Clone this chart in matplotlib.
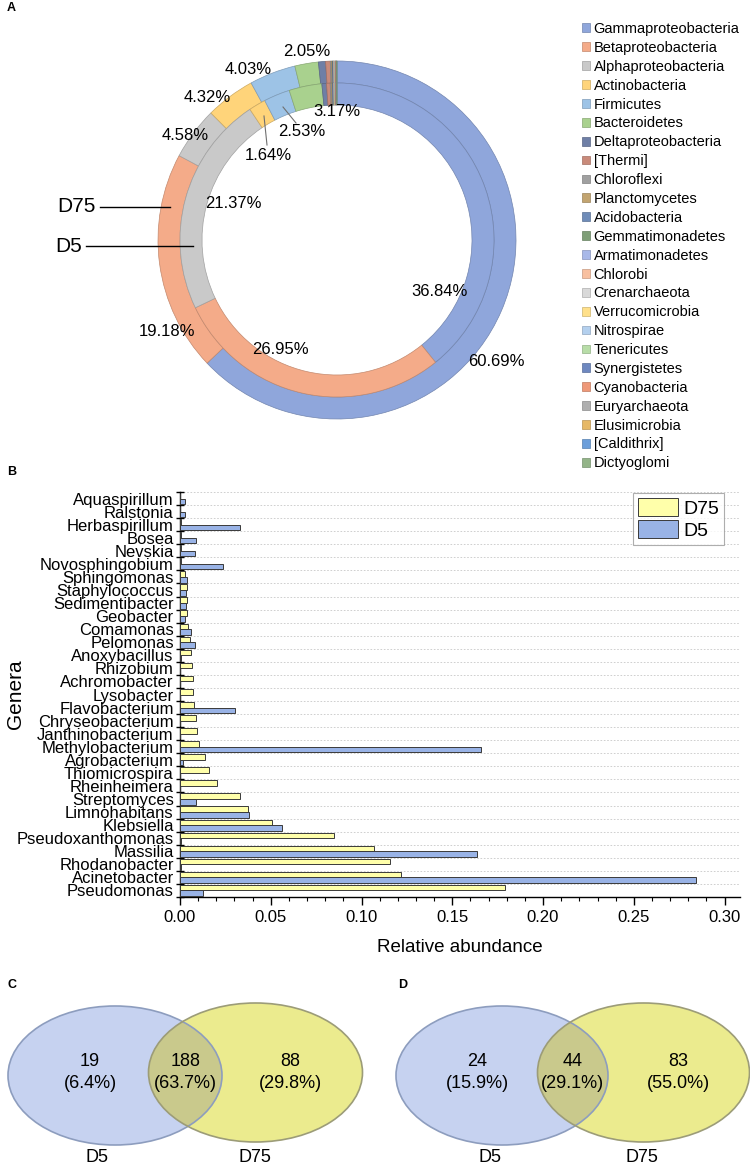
import matplotlib
matplotlib.use('Agg')
import matplotlib.pyplot as plt
from matplotlib.patches import Ellipse, Patch
from matplotlib.colors import to_rgb
import numpy as np

plt.rcParams['font.family'] = ['Liberation Sans', 'DejaVu Sans']

# ---------------- data: panel A (phylum composition) ----------------
phyla = ['Gammaproteobacteria', 'Betaproteobacteria', 'Alphaproteobacteria', 'Actinobacteria',
         'Firmicutes', 'Bacteroidetes', 'Deltaproteobacteria', '[Thermi]', 'Chloroflexi',
         'Planctomycetes', 'Acidobacteria', 'Gemmatimonadetes', 'Armatimonadetes', 'Chlorobi',
         'Crenarchaeota', 'Verrucomicrobia', 'Nitrospirae', 'Tenericutes', 'Synergistetes',
         'Cyanobacteria', 'Euryarchaeota', 'Elusimicrobia', '[Caldithrix]', 'Dictyoglomi']
d75_phyla = [60.69, 19.18, 4.58, 4.32, 4.03, 2.05, 0.62, 0.40, 0.10, 0.08, 0.05, 0.04, 0.03,
             0.03, 0.03, 0.03, 0.03, 0.03, 0.02, 0.03, 0.02, 0.02, 0.02, 0.02]
d5_phyla = [36.84, 26.95, 21.37, 1.64, 2.53, 3.17, 0.45, 0.35, 0.10, 0.10, 0.08, 0.04, 0.03,
            0.03, 0.03, 0.03, 0.03, 0.03, 0.03, 0.03, 0.03, 0.02, 0.02, 0.02]
n_labelled = 6
phyla_colors = ['#8FA6DB', '#F4AB89', '#C9C9C9', '#FFD47A', '#9DC3E6', '#A9D18E', '#6F7FA6',
                '#C98A7A', '#A0A0A0', '#C2A470', '#6F8CB8', '#7F9F78', '#A8B8E8', '#F8C0A0',
                '#D9D9D9', '#FFE08A', '#B4D0EE', '#B8DDA8', '#6E88C0', '#EE9878', '#AFAFAF',
                '#E6B866', '#6C9FDB', '#93B488']

# ---------------- data: panel B (genera) ----------------
genera = ['Aquaspirillum', 'Ralstonia', 'Herbaspirillum', 'Bosea', 'Nevskia', 'Novosphingobium',
          'Sphingomonas', 'Staphylococcus', 'Sedimentibacter', 'Geobacter', 'Comamonas',
          'Pelomonas', 'Anoxybacillus', 'Rhizobium', 'Achromobacter', 'Lysobacter',
          'Flavobacterium', 'Chryseobacterium', 'Janthinobacterium', 'Methylobacterium',
          'Agrobacterium', 'Thiomicrospira', 'Rheinheimera', 'Streptomyces', 'Limnohabitans',
          'Klebsiella', 'Pseudoxanthomonas', 'Massilia', 'Rhodanobacter', 'Acinetobacter',
          'Pseudomonas']
d75_genera = [0.0002, 0.0002, 0.0003, 0.0005, 0.0008, 0.0005, 0.0028, 0.0037, 0.0040, 0.0040,
              0.0042, 0.0055, 0.0061, 0.0068, 0.0074, 0.0074, 0.0079, 0.0086, 0.0096, 0.0103,
              0.0140, 0.0162, 0.0206, 0.0330, 0.0377, 0.0509, 0.0851, 0.1071, 0.1158, 0.1217,
              0.1792]
d5_genera = [0.0028, 0.0028, 0.0330, 0.0088, 0.0083, 0.0235, 0.0037, 0.0033, 0.0033, 0.0028,
             0.0061, 0.0083, 0.0003, 0.0002, 0.0002, 0.0002, 0.0305, 0.0002, 0.0002, 0.1660,
             0.0018, 0.0002, 0.0002, 0.0090, 0.0382, 0.0560, 0.0003, 0.1636, 0.0005, 0.2840,
             0.0129]
x_ticks = [0.00, 0.05, 0.10, 0.15, 0.20, 0.25, 0.30]

# ---------------- data: panels C, D (Venn) ----------------
venn_sets = ['D5', 'D75']
venn_c_counts = [19, 188, 88]
venn_c_pct = [6.4, 63.7, 29.8]
venn_d_counts = [24, 44, 83]
venn_d_pct = [15.9, 29.1, 55.0]

W, H = 750, 1166
fig = plt.figure(figsize=(W / 100, H / 100), dpi=100)


def fx(px):
    return px / W


def fy(py):
    return 1 - py / H


def darker(c, f=0.78):
    r, g, b = to_rgb(c)
    return (r * f, g * f, b * f)


# ================= Panel A : double donut =================
cx, cy, R = 337, 240, 179
axp = fig.add_axes([fx(cx - R), fy(cy + R), 2 * R / W, 2 * R / H])
r_out, r_mid, r_in = 1.0, 157 / R, 135 / R
w_out, _ = axp.pie(d75_phyla, radius=r_out, colors=phyla_colors, startangle=90,
                   counterclock=False, wedgeprops=dict(width=r_out - r_mid, linewidth=0.5))
w_in, _ = axp.pie(d5_phyla, radius=r_mid, colors=phyla_colors, startangle=90,
                  counterclock=False, wedgeprops=dict(width=r_mid - r_in, linewidth=0.5))
for wl in (w_out, w_in):
    for w, c in zip(wl, phyla_colors):
        w.set_edgecolor(darker(c, 0.8))
axp.set_xlim(-1, 1)
axp.set_ylim(-1, 1)
axp.axis('off')

# overlay axes in pixel coordinates for annotation text
ov = fig.add_axes([0, 0, 1, 1], zorder=5)
ov.set_xlim(0, W)
ov.set_ylim(H, 0)
ov.axis('off')
ov.patch.set_alpha(0)

pct_fs = 12
outer_pos = [(496, 362), (167, 332), (185, 135), (207, 98), (248, 70), (307, 52)]
inner_pos = [(440, 291), (280, 350), (233, 203), (268, 155), (302, 132), (337, 112)]
for v, (x, y) in zip(d75_phyla[:n_labelled], outer_pos):
    ov.text(x, y, f'{v:.2f}%', fontsize=pct_fs, ha='center', va='center')
for v, (x, y) in zip(d5_phyla[:n_labelled], inner_pos):
    ov.text(x, y, f'{v:.2f}%', fontsize=pct_fs, ha='center', va='center')
# leader lines
ov.plot([267, 264], [145, 116], color='#707070', lw=0.8)
ov.plot([296, 283], [123, 107], color='#707070', lw=0.8)

# ring labels
ov.text(96, 207, 'D75', fontsize=15, ha='right', va='center')
ov.plot([100, 170], [207, 207], color='black', lw=1)
ov.text(82, 246, 'D5', fontsize=15, ha='right', va='center')
ov.plot([86, 193], [246, 246], color='black', lw=1)

# legend
handles = [Patch(facecolor=c, edgecolor=darker(c, 0.8), linewidth=0.5) for c in phyla_colors]
fig.legend(handles, phyla, loc='upper left', bbox_to_anchor=(fx(582), fy(22)),
           frameon=False, fontsize=10.5, handlelength=0.55, handleheight=0.55,
           handletextpad=0.25, labelspacing=0.335, borderaxespad=0, borderpad=0)

# panel letters
for lab, (x, y) in zip('ABCD', [(7, 8), (7, 472), (7, 985), (398, 985)]):
    ov.text(x, y, lab, fontsize=9, fontweight='bold', ha='left', va='center')

# ================= Panel B : horizontal bars =================
axb = fig.add_axes([fx(180), fy(897), 560 / W, 405 / H])
n = len(genera)
ypos = np.arange(n)
bh = 0.43
axb.barh(ypos - bh / 2, d75_genera, height=bh, color='#FFFFAA', edgecolor='#3a3a3a',
         linewidth=0.7, label='D75', zorder=3)
axb.barh(ypos + bh / 2, d5_genera, height=bh, color='#99B3E6', edgecolor='#3a3a3a',
         linewidth=0.7, label='D5', zorder=3)
axb.set_ylim(n - 0.5, -0.5)
axb.set_xlim(0, 0.3085)
axb.set_yticks(ypos)
axb.set_yticklabels(genera, fontsize=12)
axb.set_yticks(np.arange(-0.5, n, 1.0), minor=True)
axb.tick_params(axis='y', which='major', length=0, pad=4.5)
axb.tick_params(axis='y', which='minor', length=6, direction='inout', width=1)
axb.set_xticks(x_ticks)
axb.set_xticklabels([f'{t:.2f}' for t in x_ticks], fontsize=12)
axb.set_xticks(np.arange(0, 0.305, 0.01), minor=True)
axb.tick_params(axis='x', which='major', length=6, width=1, direction='out')
axb.tick_params(axis='x', which='minor', length=3, width=0.8, direction='out')
axb.grid(axis='y', which='minor', color='#C8C8C8', linestyle=(0, (2, 2)), linewidth=0.6, zorder=0)
for s in ('top', 'right'):
    axb.spines[s].set_visible(False)
axb.spines['left'].set_linewidth(1.0)
axb.spines['bottom'].set_linewidth(1.0)
axb.set_xlabel('Relative abundance', fontsize=13.5, labelpad=10)
axb.set_ylabel('Genera', fontsize=15, labelpad=4)
axb.yaxis.set_label_coords((25 - 180) / 560, 0.5)
leg = axb.legend(loc='upper left', bbox_to_anchor=(fx(633), fy(493)),
                 bbox_transform=fig.transFigure, fontsize=14, handlelength=2.05,
                 handleheight=1.05, handletextpad=0.3, labelspacing=0.15, borderpad=0.25,
                 borderaxespad=0, fancybox=False, edgecolor='#9a9a9a')
leg.get_frame().set_linewidth(0.8)

# ================= Panels C, D : Venn diagrams =================
blue_fill, blue_edge = '#C6D2F0', '#8D9DBE'
yel_fill, yel_edge = '#EBEB8E', '#9C9C78'
ovl_fill = '#C9C98C'


def venn(counts, pcts, left_c, right_c, cy_b, cy_y, w, h, lab_x):
    e_b = Ellipse((left_c, cy_b), w, h, facecolor=blue_fill, edgecolor='none', zorder=2)
    e_y = Ellipse((right_c, cy_y), w, h, facecolor=yel_fill, edgecolor='none', zorder=2)
    ov.add_patch(e_b)
    ov.add_patch(e_y)
    e_o = Ellipse((right_c, cy_y), w, h, facecolor=ovl_fill, edgecolor='none', zorder=3)
    ov.add_patch(e_o)
    e_o.set_clip_path(e_b)
    ov.add_patch(Ellipse((left_c, cy_b), w, h, facecolor='none', edgecolor=blue_edge, lw=1.2, zorder=4))
    ov.add_patch(Ellipse((right_c, cy_y), w, h, facecolor='none', edgecolor=yel_edge, lw=1.2, zorder=4))
    xs = [left_c - 25, (left_c + w / 2 + right_c - w / 2) / 2, right_c + 35]
    for x, c, p in zip(xs, counts, pcts):
        ov.text(x, 1062, f'{c}', fontsize=13, ha='center', va='center', zorder=6)
        ov.text(x, 1084, f'({p:.1f}%)', fontsize=13, ha='center', va='center', zorder=6)
    for x, s in zip(lab_x, venn_sets):
        ov.text(x, 1157, s, fontsize=13, ha='center', va='center', zorder=6)


venn(venn_c_counts, venn_c_pct, 115, 255.5, 1075.5, 1072.5, 214, 139, [97, 255])
venn(venn_d_counts, venn_d_pct, 502, 643.5, 1075.5, 1072.5, 212, 139, [490, 642])

fig.savefig('out.png', dpi=100)
